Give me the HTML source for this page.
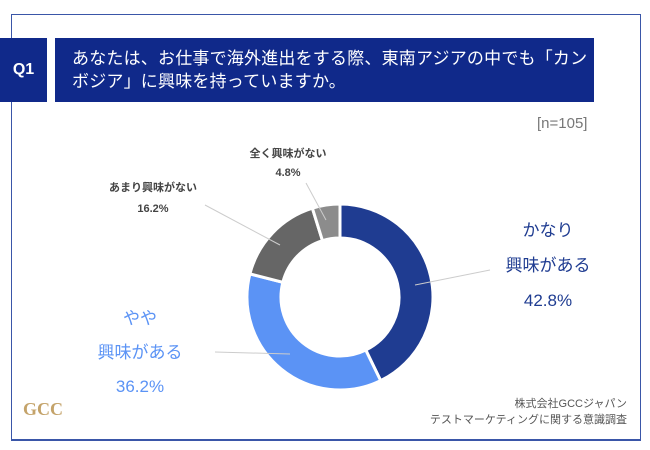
<!DOCTYPE html>
<html><head><meta charset="utf-8"><style>
body{margin:0;width:650px;height:450px;background:#fff;font-family:"Liberation Sans","Noto Sans CJK JP",sans-serif;position:relative;overflow:hidden}
.frame{position:absolute;left:11px;top:14px;width:628px;height:424px;border:1px solid #3a56a8;border-bottom-width:2px}
.q{position:absolute;left:0;top:38px;width:47px;height:64px;background:#10298a;color:#fff;font-weight:bold;font-size:16px;line-height:64px;text-align:center}
.t{position:absolute;left:55px;top:38px;width:539px;height:64px;background:#10298a;color:#fff;font-size:17px;letter-spacing:0.2px;line-height:23px;box-sizing:border-box;padding:9px 0 0 17px;white-space:nowrap}
.n{position:absolute;left:537px;top:115px;color:#777;font-size:15px}
.src{position:absolute;right:23px;top:396px;color:#555;font-size:11px;text-align:right;line-height:16px}
</style></head><body>
<div class="frame"></div>
<div class="q">Q1</div>
<div class="t">あなたは、お仕事で海外進出をする際、東南アジアの中でも「カン<br>ボジア」に興味を持っていますか。</div>
<div class="n">[n=105]</div>
<svg width="650" height="450" style="position:absolute;left:0;top:0" id="chart"></svg>
<div class="src">株式会社GCCジャパン<br>テストマーケティングに関する意識調査</div>
<svg style="position:absolute;left:20px;top:395px" width="50" height="30">
<text x="3" y="20" font-size="18" font-weight="bold" fill="#c4a36a" font-family="Liberation Serif,serif">GCC</text></svg>
<script>
const categories=["かなり興味がある","やや興味がある","あまり興味がない","全く興味がない"];
const values=[42.8,36.2,16.2,4.8];
const colors=["#1f3c91","#5b93f5","#666666","#8c8c8c"];
const cx=340,cy=297,R=93,r=59;
const svg=document.getElementById('chart');const NS="http://www.w3.org/2000/svg";
const total=values.reduce((a,b)=>a+b,0);
let a0=0;
function pt(a,rad){return [cx+rad*Math.sin(a),cy-rad*Math.cos(a)];}
values.forEach((v,i)=>{
 const a1=a0+v/total*2*Math.PI;
 const p1=pt(a0,R),p2=pt(a1,R),p3=pt(a1,r),p4=pt(a0,r);const lg=(a1-a0)>Math.PI?1:0;
 const p=document.createElementNS(NS,'path');
 p.setAttribute('d',`M${p1}A${R},${R} 0 ${lg} 1 ${p2}L${p3}A${r},${r} 0 ${lg} 0 ${p4}Z`);
 p.setAttribute('fill',colors[i]);p.setAttribute('stroke','#fff');p.setAttribute('stroke-width','3');
 
 
 svg.appendChild(p);
 a0=a1;
});
const labels=[
 {lines:["かなり","興味がある",values[0]+"%"],x:548,y:[236,271,306],size:17,col:"#1f3c91",lx:[415,285],lt:[490,270]},
 {lines:["やや","興味がある",values[1]+"%"],x:140,y:[324,358,392],size:17,col:"#5b93f5",lx:[290,354],lt:[215,352]},
 {lines:["あまり興味がない",values[2]+"%"],x:153,y:[191,212],size:11,col:"#444",lx:[280,245],lt:[205,205]},
 {lines:["全く興味がない",values[3]+"%"],x:288,y:[157,176],size:11,col:"#444",lx:[326,220],lt:[306,183]}
];
labels.forEach((L,i)=>{
 const ln=document.createElementNS(NS,'line');
 ln.setAttribute('x1',L.lt[0]);ln.setAttribute('y1',L.lt[1]);ln.setAttribute('x2',L.lx[0]);ln.setAttribute('y2',L.lx[1]);
 ln.setAttribute('stroke','#ccc');ln.setAttribute('stroke-width','1');
 
 
 svg.appendChild(ln);
 L.lines.forEach((s,j)=>{
  const t=document.createElementNS(NS,'text');
  t.setAttribute('x',L.x);t.setAttribute('y',L.y[j]);t.setAttribute('text-anchor','middle');
  t.setAttribute('font-size',L.size);t.setAttribute('fill',L.col);
  if(L.size<12)t.setAttribute('font-weight','bold');
  t.textContent=s;
  
  
  svg.appendChild(t);
 });
});
</script>
</body></html>
